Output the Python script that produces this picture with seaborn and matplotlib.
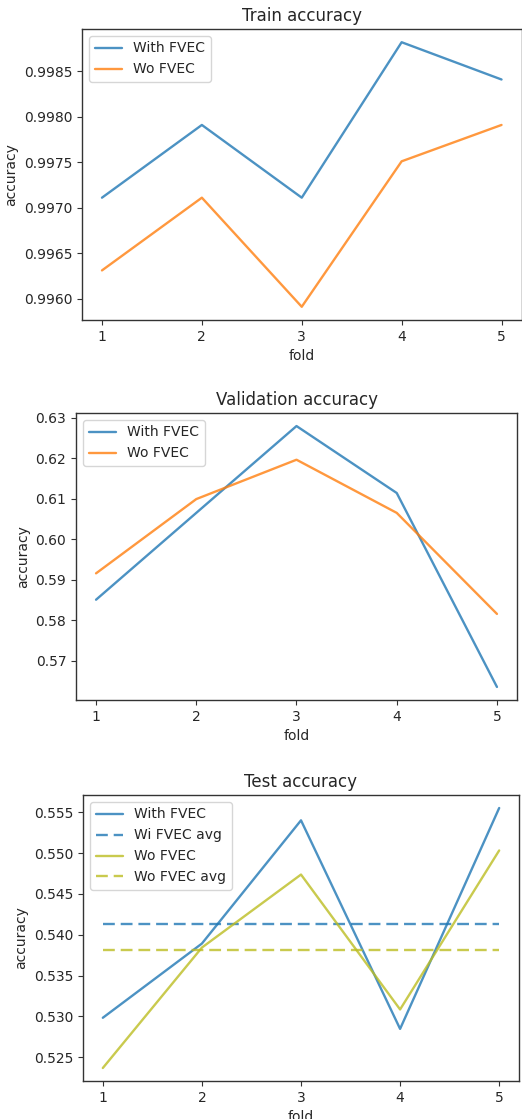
import numpy as np
import pandas as pd
import matplotlib
matplotlib.use("Agg")
import matplotlib.pyplot as plt
import seaborn as sns

folds = [1, 2, 3, 4, 5]

train_with = [0.99711, 0.99791, 0.99711, 0.99882, 0.99841]
train_wo = [0.99631, 0.99711, 0.99591, 0.99751, 0.99791]

val_with = [0.5851, 0.6065, 0.6279, 0.6114, 0.5636]
val_wo = [0.5916, 0.6099, 0.6196, 0.6065, 0.5816]

test_with = [0.52984, 0.53893, 0.55402, 0.52848, 0.55553]
test_wo = [0.52369, 0.53844, 0.54738, 0.53086, 0.55033]

sns.set_style("ticks")
plt.rcParams['font.family'] = ['DejaVu Sans']
plt.rcParams['axes.edgecolor'] = '#333333'
plt.rcParams['axes.linewidth'] = 1.0

fig = plt.figure(figsize=(5.22, 11.19), dpi=100)
W, H = 522.0, 1119.0

def make_ax(l, r, t, b):
    return fig.add_axes([l / W, 1 - b / H, (r - l) / W, (b - t) / H])

blue = "#1f77b4"
orange = "#ff7f0e"
olive = "#bcbd22"
lw = 1.7

def style(ax, title):
    ax.set_title(title, fontsize=12, color="#262626")
    ax.set_xlabel("fold", fontsize=10)
    ax.set_ylabel("accuracy", fontsize=10)
    ax.set_xticks(folds)
    ax.tick_params(labelsize=10, colors="#333333", labelcolor="#262626")
    for s in ax.spines.values():
        s.set_visible(True)
    ax.legend(loc="upper left", fontsize=10)

# Train
ax1 = make_ax(82, 521.5, 29, 320)
sns.lineplot(x=folds, y=train_with, ax=ax1, color=blue, alpha=0.8, lw=lw, label="With FVEC")
sns.lineplot(x=folds, y=train_wo, ax=ax1, color=orange, alpha=0.8, lw=lw, label="Wo FVEC")
style(ax1, "Train accuracy")

# Validation
ax2 = make_ax(76, 517, 413, 700)
sns.lineplot(x=folds, y=val_with, ax=ax2, color=blue, alpha=0.8, lw=lw, label="With FVEC")
sns.lineplot(x=folds, y=val_wo, ax=ax2, color=orange, alpha=0.8, lw=lw, label="Wo FVEC")
style(ax2, "Validation accuracy")

# Test
ax3 = make_ax(83, 519, 795, 1081)
avg_with = [np.mean(test_with)] * len(folds)
avg_wo = [np.mean(test_wo)] * len(folds)
sns.lineplot(x=folds, y=test_with, ax=ax3, color=blue, alpha=0.8, lw=lw, label="With FVEC")
sns.lineplot(x=folds, y=avg_with, ax=ax3, color=blue, alpha=0.8, lw=lw, dashes=False,
             label="Wi FVEC avg").lines[-1].set_dashes((5, 2.5))
sns.lineplot(x=folds, y=test_wo, ax=ax3, color=olive, alpha=0.8, lw=lw, label="Wo FVEC")
sns.lineplot(x=folds, y=avg_wo, ax=ax3, color=olive, alpha=0.8, lw=lw, dashes=False,
             label="Wo FVEC avg").lines[-1].set_dashes((5, 2.5))
style(ax3, "Test accuracy")

fig.savefig("out.png", dpi=100)
